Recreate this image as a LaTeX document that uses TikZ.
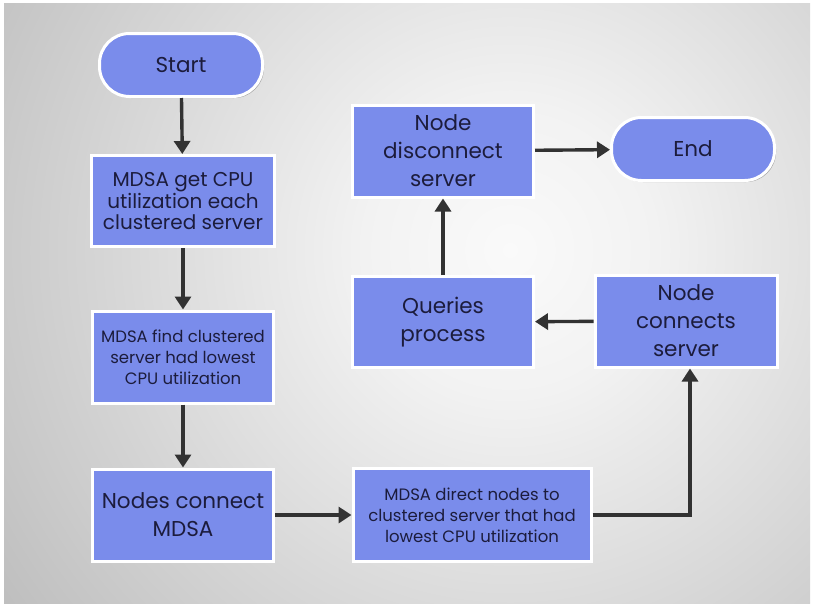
\documentclass[tikz,border=0pt]{standalone}
\usepackage{fontspec}
\setmainfont{Poppins}
\usetikzlibrary{arrows.meta,shadows}
\definecolor{boxfill}{RGB}{122,140,235}
\definecolor{txt}{RGB}{28,28,60}
\definecolor{arr}{RGB}{50,50,50}
\pgfdeclareradialshading{bgshade}{\pgfpoint{0bp}{0bp}}{color(0bp)=(white!98!black); color(6bp)=(white!95!black); color(40bp)=(black!40); color(50bp)=(black!44)}
\begin{document}
\begin{tikzpicture}[x=1pt,y=-1pt,
  box/.style={draw=white, line width=3pt, fill=boxfill, text=txt, align=center, inner sep=0pt,
    drop shadow={shadow xshift=1.5pt, shadow yshift=-1.5pt, opacity=0.45, fill=black!70}},
  term/.style={box, rounded corners=30pt},
  big/.style={font=\fontsize{21.5}{28}\selectfont},
  mid/.style={font=\fontsize{20}{20.5}\selectfont},
  small/.style={font=\fontsize{16.5}{20.8}\selectfont},
  flow/.style={draw=arr, line width=3.4pt, -{Triangle[length=13pt,width=16pt]}}]
\useasboundingbox (0,0) rectangle (813,603);
\fill[white] (0,0) rectangle (813,603);
\begin{scope}
  \clip (4,3) rectangle (810,603);
  \shade[shading=bgshade] (-90,-350) rectangle (1110,850);
\end{scope}
\node[term, big, minimum width=163pt, minimum height=63pt] (start) at (181,65) {Start};
\node[box, mid, minimum width=183pt, minimum height=91pt] (b1) at (183,201) {MDSA get CPU\\utilization each\\clustered server};
\node[box, small, minimum width=181pt, minimum height=92pt] (b2) at (183,357) {MDSA find clustered\\server had lowest\\CPU utilization};
\node[box, big, minimum width=181pt, minimum height=92pt] (b3) at (183,515) {Nodes connect\\MDSA};
\node[box, small, minimum width=238pt, minimum height=93pt] (b4) at (472,515) {MDSA direct nodes to\\clustered server that had\\lowest CPU utilization};
\node[box, big, minimum width=182pt, minimum height=92pt] (b5) at (686,321) {Node\\connects\\server};
\node[box, big, minimum width=181pt, minimum height=91pt] (b6) at (443,322) {Queries\\process};
\node[box, big, minimum width=181pt, minimum height=92pt] (b7) at (443,151) {Node\\disconnect\\server};
\node[term, big, minimum width=163pt, minimum height=63pt] (end) at (693,149) {End};
\draw[flow] (start) -- (b1);
\draw[flow] (b1) -- (b2);
\draw[flow] (b2) -- (b3);
\draw[flow] (b3) -- (b4);
\draw[flow] (b4.east) -| ([xshift=4pt]b5.south);
\draw[flow] (b5) -- (b6);
\draw[flow] (b6) -- (b7);
\draw[flow] (b7) -- (end);
\end{tikzpicture}
\end{document}
